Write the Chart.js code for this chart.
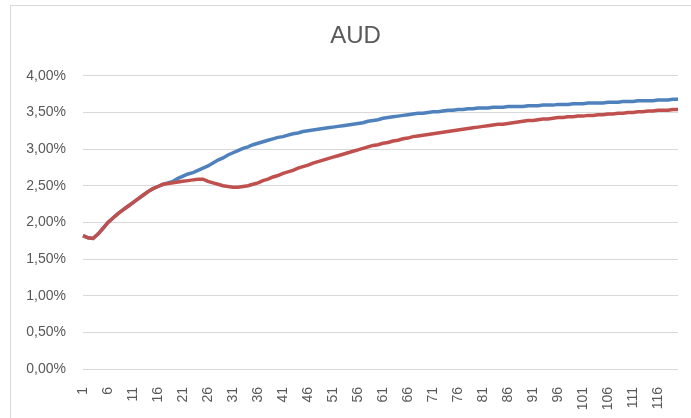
<!DOCTYPE html>
<html>
<head>
<meta charset="utf-8">
<script src="https://cdn.jsdelivr.net/npm/chart.js@4/dist/chart.umd.min.js"></script>
<style>
  html, body { margin: 0; padding: 0; background: #fff; overflow: hidden; }
  #frame { position: absolute; left: 10px; top: 5px; width: 690px; height: 430px; border: 1px solid #d9d9d9; }
  #wrap { position: absolute; left: 0; top: 0; width: 691px; height: 418px; }
</style>
</head>
<body>
<div id="frame"></div>
<div id="wrap"><canvas id="chart"></canvas></div>
<script>
const labels = Array.from({ length: 120 }, (_, i) => String(i + 1));

const seriesBlue = [
  1.82, 1.79, 1.78, 1.84, 1.92, 2.00, 2.06, 2.12, 2.17, 2.22,
  2.27, 2.32, 2.37, 2.42, 2.46, 2.49, 2.52, 2.54, 2.56, 2.60,
  2.63, 2.66, 2.68, 2.71, 2.74, 2.77, 2.81, 2.85, 2.88, 2.92,
  2.95, 2.98, 3.01, 3.03, 3.06, 3.08, 3.10, 3.12, 3.14, 3.16,
  3.17, 3.19, 3.21, 3.22, 3.24, 3.25, 3.26, 3.27, 3.28, 3.29,
  3.30, 3.31, 3.32, 3.33, 3.34, 3.35, 3.36, 3.38, 3.39, 3.40,
  3.42, 3.43, 3.44, 3.45, 3.46, 3.47, 3.48, 3.49, 3.49, 3.50,
  3.51, 3.51, 3.52, 3.53, 3.53, 3.54, 3.54, 3.55, 3.55, 3.56,
  3.56, 3.56, 3.57, 3.57, 3.57, 3.58, 3.58, 3.58, 3.58, 3.59,
  3.59, 3.59, 3.60, 3.60, 3.60, 3.61, 3.61, 3.61, 3.62, 3.62,
  3.62, 3.63, 3.63, 3.63, 3.63, 3.64, 3.64, 3.64, 3.65, 3.65,
  3.65, 3.66, 3.66, 3.66, 3.66, 3.67, 3.67, 3.67, 3.68, 3.68
];

const seriesRed = [
  1.82, 1.79, 1.78, 1.84, 1.92, 2.00, 2.06, 2.12, 2.17, 2.22,
  2.27, 2.32, 2.37, 2.42, 2.46, 2.49, 2.52, 2.53, 2.54, 2.55,
  2.56, 2.57, 2.58, 2.59, 2.59, 2.56, 2.54, 2.52, 2.50, 2.49,
  2.48, 2.48, 2.49, 2.50, 2.52, 2.54, 2.57, 2.59, 2.62, 2.64,
  2.67, 2.69, 2.71, 2.74, 2.76, 2.78, 2.81, 2.83, 2.85, 2.87,
  2.89, 2.91, 2.93, 2.95, 2.97, 2.99, 3.01, 3.03, 3.05, 3.06,
  3.08, 3.09, 3.11, 3.12, 3.14, 3.15, 3.17, 3.18, 3.19, 3.20,
  3.21, 3.22, 3.23, 3.24, 3.25, 3.26, 3.27, 3.28, 3.29, 3.30,
  3.31, 3.32, 3.33, 3.34, 3.34, 3.35, 3.36, 3.37, 3.38, 3.39,
  3.39, 3.40, 3.41, 3.41, 3.42, 3.43, 3.43, 3.44, 3.44, 3.45,
  3.45, 3.46, 3.46, 3.47, 3.47, 3.48, 3.48, 3.49, 3.49, 3.50,
  3.50, 3.51, 3.51, 3.52, 3.52, 3.53, 3.53, 3.53, 3.54, 3.54
];

const textColor = '#595959';
const fontFamily = "'Liberation Sans', Arial, sans-serif";

const ctx = document.getElementById('chart').getContext('2d');
new Chart(ctx, {
  type: 'line',
  data: {
    labels: labels,
    datasets: [
      {
        label: 'Serie 1',
        data: seriesBlue,
        borderColor: '#4f81bd',
        borderWidth: 3.5,
        pointRadius: 0,
        tension: 0,
        order: 1
      },
      {
        label: 'Serie 2',
        data: seriesRed,
        borderColor: '#c0504d',
        borderWidth: 3.5,
        pointRadius: 0,
        tension: 0,
        order: 0
      }
    ]
  },
  options: {
    responsive: true,
    maintainAspectRatio: false,
    animation: false,
    layout: { padding: { left: 20, right: 0, top: 0, bottom: 0 } },
    plugins: {
      legend: { display: false },
      tooltip: { enabled: false },
      title: {
        display: true,
        text: 'AUD',
        color: textColor,
        font: { family: fontFamily, size: 24, weight: 'normal' },
        padding: { top: 22, bottom: 25 }
      }
    },
    scales: {
      x: {
        offset: false,
        grid: { display: false, drawTicks: false },
        border: { display: false },
        afterFit: (scale) => {
          scale.height = 49;
          scale.paddingLeft = 0;
          scale.paddingRight = 13;
        },
        ticks: {
          autoSkip: false,
          maxRotation: 90,
          minRotation: 90,
          padding: 18,
          color: textColor,
          font: { family: fontFamily, size: 14 },
          callback: function (val, idx) {
            return idx % 5 === 0 ? this.getLabelForValue(val) : '';
          }
        }
      },
      y: {
        min: 0,
        max: 4,
        afterFit: (scale) => { scale.width = 63; },
        grid: { color: '#d9d9d9', lineWidth: 1, drawTicks: false },
        border: { display: false },
        ticks: {
          stepSize: 0.5,
          padding: 17,
          color: textColor,
          font: { family: fontFamily, size: 14 },
          callback: (v) => v.toFixed(2).replace('.', ',') + '%'
        }
      }
    }
  }
});
</script>
</body>
</html>
